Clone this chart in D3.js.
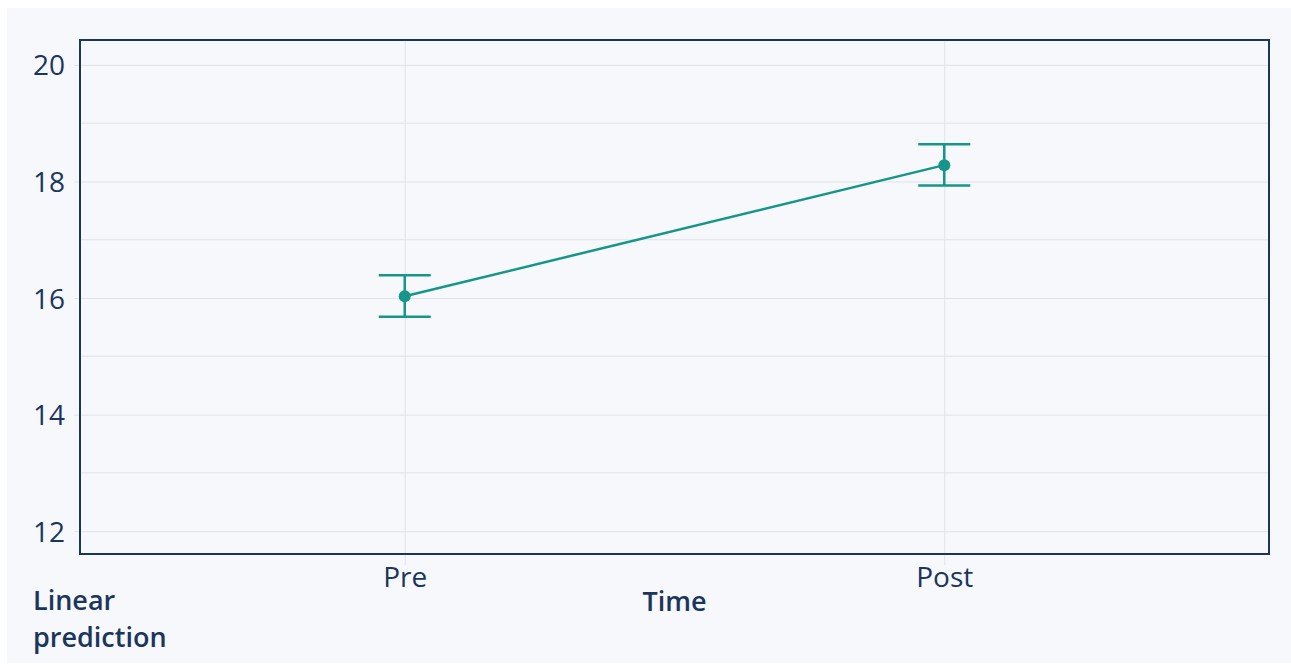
<!DOCTYPE html>
<html>
<head>
<meta charset="utf-8">
<script src="https://cdn.jsdelivr.net/npm/d3@7"></script>
<style>
  html, body { margin: 0; padding: 0; background: #ffffff; }
  svg { display: block; }
  text { font-family: "Open Sans", "Noto Sans", sans-serif; fill: #1b365d; }
</style>
</head>
<body>
<svg id="chart" width="1291" height="664"></svg>
<script>
// Margins (predictive margins of the linear prediction) by time point
const categories = ["Pre", "Post"];
const estimates = [16.03, 18.28];
const ciLower = [15.68, 17.93];
const ciUpper = [16.39, 18.64];
const yTicks = [12, 14, 16, 18, 20];
const yMinorTicks = [13, 15, 17, 19];

const navy = "#1b365d";
const teal = "#16958a";
const grid = "#dfe3ea";
const fontStack = "'Open Sans', 'Noto Sans', sans-serif";

const svg = d3.select("#chart");

// Outer panel
svg.append("rect")
  .attr("x", 7).attr("y", 8).attr("width", 1284).attr("height", 655)
  .attr("fill", "#f6f8fb");

const plot = { left: 81, top: 41, right: 1268, bottom: 553 };
const tickLen = 7;

const x = d3.scaleLinear()
  .domain([0.4, 2.6])
  .range([plot.left, plot.right]);

const y = d3.scaleLinear()
  .domain([11.625, 20.41])
  .range([plot.bottom, plot.top]);

const xPos = (d, i) => x(i + 1);

// Minor horizontal gridlines
svg.append("g").selectAll("line").data(yMinorTicks).join("line")
  .attr("x1", plot.left).attr("x2", plot.right)
  .attr("y1", d => y(d)).attr("y2", d => y(d))
  .attr("stroke", grid).attr("stroke-width", 1);

// Major gridlines with short ticks extending left of the frame
const yAxis = d3.axisLeft(y)
  .tickValues(yTicks)
  .tickSize(-(plot.right - plot.left) - tickLen)
  .tickPadding(9)
  .tickFormat(d3.format("d"));

const yg = svg.append("g")
  .attr("transform", `translate(${plot.left - tickLen},0)`)
  .call(yAxis);
yg.select(".domain").remove();
yg.selectAll(".tick line").attr("stroke", grid).attr("stroke-width", 1);
yg.selectAll(".tick text")
  .attr("x", -9)
  .attr("dy", "0.36em")
  .attr("font-size", 28)
  .attr("fill", navy)
  .style("font-family", fontStack);

// Vertical gridlines at each category, extending below the frame
const xExt = 12;
const xAxis = d3.axisBottom(x)
  .tickValues(categories.map((c, i) => i + 1))
  .tickSize(-(plot.bottom - plot.top) - xExt)
  .tickFormat((d) => categories[d - 1]);

const xg = svg.append("g")
  .attr("transform", `translate(0,${plot.bottom + xExt})`)
  .call(xAxis);
xg.select(".domain").remove();
xg.selectAll(".tick line").attr("stroke", grid).attr("stroke-width", 1);
xg.selectAll(".tick text")
  .attr("y", 22)
  .attr("dy", 0)
  .attr("font-size", 28)
  .attr("fill", navy)
  .style("font-family", fontStack);

// Frame
svg.append("rect")
  .attr("x", plot.left - 1).attr("y", plot.top - 1)
  .attr("width", plot.right - plot.left + 2).attr("height", plot.bottom - plot.top + 2)
  .attr("fill", "none").attr("stroke", navy).attr("stroke-width", 2);

// Connecting line
const line = d3.line()
  .x((d, i) => xPos(d, i))
  .y(d => y(d));

svg.append("path")
  .datum(estimates)
  .attr("d", line)
  .attr("fill", "none")
  .attr("stroke", teal)
  .attr("stroke-width", 2.5);

// Confidence intervals
const capHalf = 26;
const ci = svg.append("g").attr("stroke", teal).attr("stroke-width", 2.5);
ci.selectAll(".stem").data(categories).join("line")
  .attr("x1", (d, i) => x(i + 1)).attr("x2", (d, i) => x(i + 1))
  .attr("y1", (d, i) => y(ciLower[i])).attr("y2", (d, i) => y(ciUpper[i]));
ci.selectAll(".capHi").data(categories).join("line")
  .attr("x1", (d, i) => x(i + 1) - capHalf).attr("x2", (d, i) => x(i + 1) + capHalf)
  .attr("y1", (d, i) => y(ciUpper[i])).attr("y2", (d, i) => y(ciUpper[i]));
ci.selectAll(".capLo").data(categories).join("line")
  .attr("x1", (d, i) => x(i + 1) - capHalf).attr("x2", (d, i) => x(i + 1) + capHalf)
  .attr("y1", (d, i) => y(ciLower[i])).attr("y2", (d, i) => y(ciLower[i]));

// Point estimates
svg.append("g").selectAll("circle").data(estimates).join("circle")
  .attr("cx", (d, i) => xPos(d, i))
  .attr("cy", d => y(d))
  .attr("r", 6)
  .attr("fill", teal);

// Axis titles
svg.append("text")
  .attr("x", (plot.left + plot.right) / 2).attr("y", 611)
  .attr("text-anchor", "middle")
  .attr("font-size", 27).attr("font-weight", 600)
  .text("Time");

const yTitle = svg.append("text")
  .attr("x", 33).attr("y", 610)
  .attr("font-size", 27).attr("font-weight", 600);
yTitle.append("tspan").attr("x", 33).attr("dy", 0).text("Linear");
yTitle.append("tspan").attr("x", 33).attr("dy", 37).text("prediction");
</script>
</body>
</html>
